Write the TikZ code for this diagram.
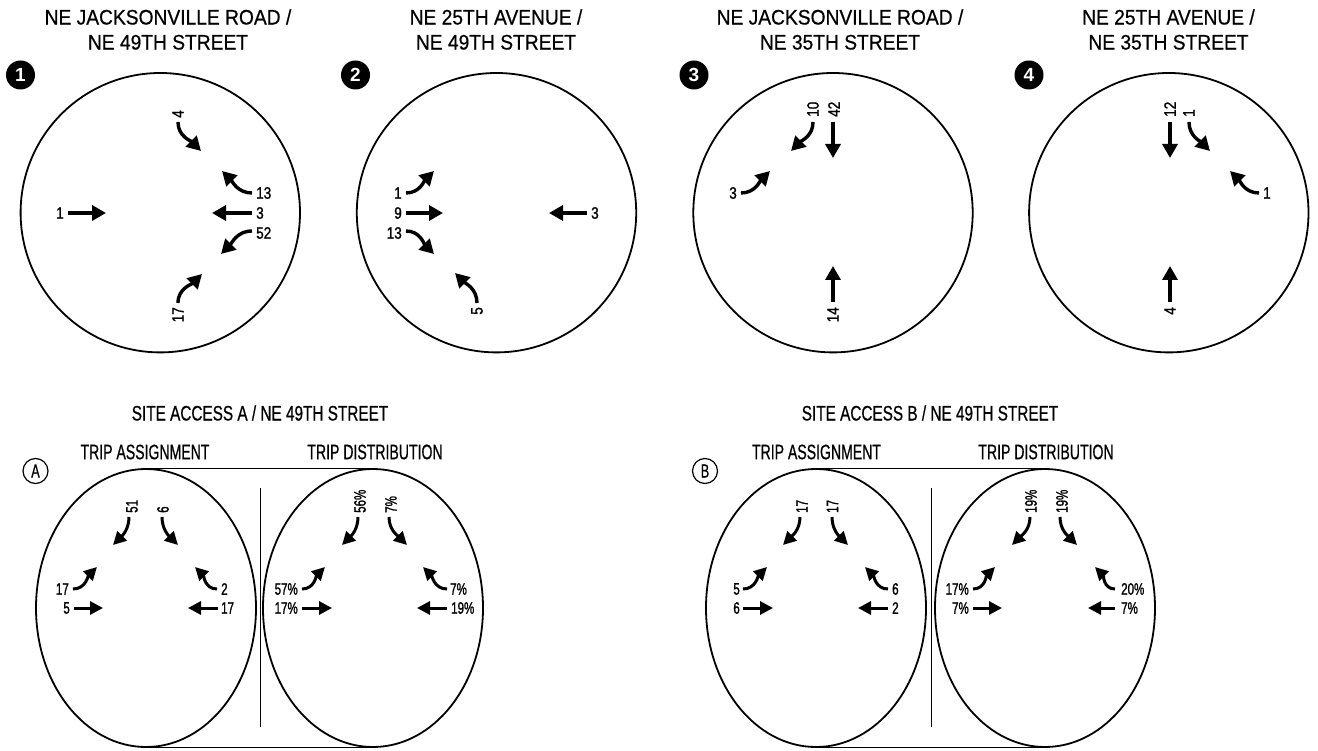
\documentclass[tikz,border=0pt]{standalone}
\usepackage{fontspec}
\setmainfont{Liberation Sans}
\newfontfamily\ttlfam[FakeStretch=0.915,FakeBold=0.6]{Liberation Sans}
\newfontfamily\hdfam[FakeStretch=0.73,FakeBold=0.6]{Liberation Sans}
\newfontfamily\subfam[FakeStretch=0.67,FakeBold=0.6]{Liberation Sans}
\newfontfamily\tlabfam[FakeStretch=0.82,FakeBold=1.2]{Liberation Sans}
\newfontfamily\blabfam[FakeStretch=0.70,FakeBold=1.2]{Liberation Sans}
\usetikzlibrary{arrows.meta,shapes.geometric}
\tikzset{
  ttl/.style={align=center,inner sep=0pt,font=\ttlfam\fontsize{21}{25}\selectfont},
  hd/.style={inner sep=0pt,font=\hdfam\fontsize{21}{25}\selectfont},
  sub/.style={inner sep=0pt,font=\subfam\fontsize{21}{25}\selectfont},
  tl/.style={inner sep=0pt,font=\tlabfam\fontsize{16.5}{18}\selectfont},
  bl/.style={inner sep=0pt,font=\blabfam\fontsize{16.5}{18}\selectfont},
  ring/.style={circle,draw,line width=1.8pt,minimum size=279.4pt,inner sep=0pt},
  oval/.style={ellipse,draw,line width=1.8pt,minimum width=220pt,minimum height=278pt,inner sep=0pt},
  badge/.style={circle,fill=black,minimum size=29pt,inner sep=0pt,text=white,font=\bfseries\fontsize{19}{19}\selectfont},
  obadge/.style={circle,draw,line width=1.2pt,minimum size=25pt,inner sep=0pt,font=\subfam\fontsize{19}{19}\selectfont},
  mv/.style={line width=3.4pt,-{Triangle[length=14pt,width=15pt]}},
  mvs/.style={line width=3pt,-{Triangle[length=13pt,width=13pt]}},
}
\begin{document}
\begin{tikzpicture}[x=1pt,y=-1pt]
\useasboundingbox (0,0) rectangle (1318,751);
\fill[white] (0,0) rectangle (1318,751);

% ---------- titles ----------
\node[ttl] (t1) at (168,29.5) {NE JACKSONVILLE ROAD /\\NE 49TH STREET};
\node[ttl] (t2) at (496,29.5) {NE 25TH AVENUE /\\NE 49TH STREET};
\node[ttl] (t3) at (840,29.5) {NE JACKSONVILLE ROAD /\\NE 35TH STREET};
\node[ttl] (t4) at (1168.5,29.5) {NE 25TH AVENUE /\\NE 35TH STREET};

\node[badge] (b1) at (20.5,75) {1};
\node[badge] (b2) at (355.5,75) {2};
\node[badge] (b3) at (694,75) {3};
\node[badge] (b4) at (1029,75) {4};

\node[ring] (c1) at (160.3,212.7) {};
\node[ring] (c2) at (496.5,212.7) {};
\node[ring] (c3) at (833,212.7) {};
\node[ring] (c4) at (1168.8,212.7) {};

% ---------- circle 1 ----------
\node[tl,rotate=90,anchor=west] (c1a) at (178,118) {4};
\draw[mv] (178,122) to[out=-90,in=135] (201,151);
\node[tl,anchor=west] (c1b) at (256,193) {13};
\draw[mv] (252,193) to[out=180,in=-45] (222,171);
\node[tl,anchor=west] (c1c) at (256,213) {3};
\draw[mv] (252,213) -- (212,213);
\node[tl,anchor=west] (c1d) at (256,233) {52};
\draw[mv] (252,231) to[out=180,in=45] (221,254);
\node[tl,anchor=east] (c1e) at (64,213) {1};
\draw[mv] (68,213) -- (106,213);
\node[tl,rotate=90,anchor=east] (c1f) at (178,307) {17};
\draw[mv] (178,303) to[out=90,in=-135] (202,274);

% ---------- circle 2 ----------
\node[tl,anchor=east] (c2a) at (402,193) {1};
\draw[mv] (406,193) to[out=0,in=-135] (434,171);
\node[tl,anchor=east] (c2b) at (402,213) {9};
\draw[mv] (406,213) -- (443,213);
\node[tl,anchor=east] (c2c) at (402,233) {13};
\draw[mv] (406,231) to[out=0,in=135] (434,254);
\node[tl,anchor=west] (c2d) at (591,213) {3};
\draw[mv] (587,213) -- (549,213);
\node[tl,rotate=90,anchor=east] (c2e) at (477,307) {5};
\draw[mv] (477,303) to[out=90,in=-45] (455,273);

% ---------- circle 3 ----------
\node[tl,rotate=90,anchor=west] (c3a) at (813,117) {10};
\draw[mv] (813,122) to[out=-90,in=45] (791,151);
\node[tl,rotate=90,anchor=west] (c3b) at (834,117) {42};
\draw[mv] (833,122) -- (833,158);
\node[tl,anchor=east] (c3c) at (737,193) {3};
\draw[mv] (741,193) to[out=0,in=-135] (770,171);
\node[tl,rotate=90,anchor=east] (c3d) at (833,307) {14};
\draw[mv] (833,302) -- (833,266);

% ---------- circle 4 ----------
\node[tl,rotate=90,anchor=west] (c4a) at (1170,117) {12};
\draw[mv] (1170,122) -- (1170,158);
\node[tl,rotate=90,anchor=west] (c4b) at (1189,117) {1};
\draw[mv] (1189,122) to[out=-90,in=135] (1210,151);
\node[tl,anchor=west] (c4c) at (1263,193) {1};
\draw[mv] (1259,193) to[out=180,in=-45] (1230,171);
\node[tl,rotate=90,anchor=east] (c4d) at (1170,307) {4};
\draw[mv] (1170,302) -- (1170,266);

% ---------- site access A ----------
\node[hd] (hA) at (260,413) {SITE ACCESS A / NE 49TH STREET};
\node[sub] (sA1) at (145,452) {TRIP ASSIGNMENT};
\node[sub] (sA2) at (375,452) {TRIP DISTRIBUTION};
\node[obadge] (bA) at (35.5,471) {A};
\node[oval] (aL) at (146,608) {};
\node[oval] (aR) at (373,608) {};
\draw[line width=1pt] (aL.north) -- (aR.north);
\draw[line width=1pt] (aL.south) -- (aR.south);
\draw[line width=0.9pt] (260,488) -- (260,727);

\node[bl,rotate=90,anchor=west] (a1) at (132,513) {51};
\draw[mvs] (129,517) to[out=-90,in=45] (113,545);
\node[bl,rotate=90,anchor=west] (a2) at (163,513) {6};
\draw[mvs] (162,517) to[out=-90,in=135] (178,545);
\node[bl,anchor=east] (a3) at (69,589) {17};
\draw[mvs] (73,589) to[out=0,in=-135] (97,567);
\node[bl,anchor=east] (a4) at (70,608) {5};
\draw[mvs] (74,608) -- (103,608);
\node[bl,anchor=west] (a5) at (221,589) {2};
\draw[mvs] (217,589) to[out=180,in=-45] (195,567);
\node[bl,anchor=west] (a6) at (221,608) {17};
\draw[mvs] (218,608) -- (188,608);

\node[bl,rotate=90,anchor=west] (a7) at (360,513) {56\%};
\draw[mvs] (358,517) to[out=-90,in=45] (342,545);
\node[bl,rotate=90,anchor=west] (a8) at (391,513) {7\%};
\draw[mvs] (389,517) to[out=-90,in=135] (407,545);
\node[bl,anchor=east] (a9) at (298,589) {57\%};
\draw[mvs] (302,589) to[out=0,in=-135] (325,567);
\node[bl,anchor=east] (a10) at (298,608) {17\%};
\draw[mvs] (302,608) -- (332,608);
\node[bl,anchor=west] (a11) at (450,589) {7\%};
\draw[mvs] (447,589) to[out=180,in=-45] (423,567);
\node[bl,anchor=west] (a12) at (451,608) {19\%};
\draw[mvs] (447,608) -- (417,608);

% ---------- site access B ----------
\node[hd] (hB) at (930,413) {SITE ACCESS B / NE 49TH STREET};
\node[sub] (sB1) at (816.5,452) {TRIP ASSIGNMENT};
\node[sub] (sB2) at (1046,452) {TRIP DISTRIBUTION};
\node[obadge] (bB) at (705,471) {B};
\node[oval] (bL) at (816,608) {};
\node[oval] (bR) at (1045,608) {};
\draw[line width=1pt] (bL.north) -- (bR.north);
\draw[line width=1pt] (bL.south) -- (bR.south);
\draw[line width=0.9pt] (931,488) -- (931,727);

\node[bl,rotate=90,anchor=west] (b1a) at (802,513) {17};
\draw[mvs] (800,517) to[out=-90,in=45] (783,545);
\node[bl,rotate=90,anchor=west] (b1b) at (832.5,513) {17};
\draw[mvs] (832,517) to[out=-90,in=135] (848,545);
\node[bl,anchor=east] (b1c) at (740,589) {5};
\draw[mvs] (743,589) to[out=0,in=-135] (767,567);
\node[bl,anchor=east] (b1d) at (740,608) {6};
\draw[mvs] (743,608) -- (773,608);
\node[bl,anchor=west] (b1e) at (892,589) {6};
\draw[mvs] (888,589) to[out=180,in=-45] (865,567);
\node[bl,anchor=west] (b1f) at (892,608) {2};
\draw[mvs] (888,608) -- (858,608);

\node[bl,rotate=90,anchor=west] (b2a) at (1031,513) {19\%};
\draw[mvs] (1030,517) to[out=-90,in=45] (1012,545);
\node[bl,rotate=90,anchor=west] (b2b) at (1062,513) {19\%};
\draw[mvs] (1060,517) to[out=-90,in=135] (1077,545);
\node[bl,anchor=east] (b2c) at (969,589) {17\%};
\draw[mvs] (973,589) to[out=0,in=-135] (995,567);
\node[bl,anchor=east] (b2d) at (969,608) {7\%};
\draw[mvs] (973,608) -- (1002,608);
\node[bl,anchor=west] (b2e) at (1121,589) {20\%};
\draw[mvs] (1115,589) to[out=180,in=-45] (1095,567);
\node[bl,anchor=west] (b2f) at (1121,608) {7\%};
\draw[mvs] (1115,608) -- (1088,608);
\end{tikzpicture}
\end{document}
